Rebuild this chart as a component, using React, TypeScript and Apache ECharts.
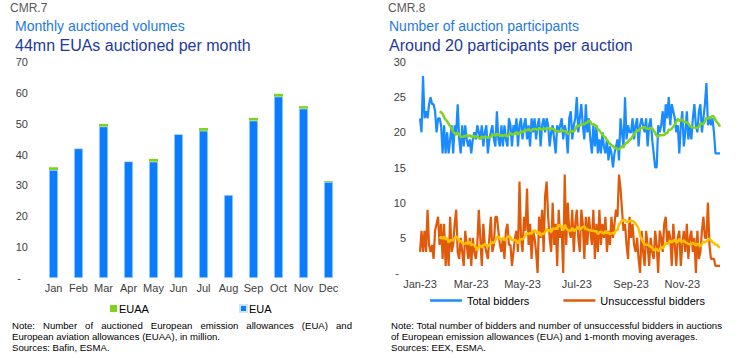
import React, { useEffect, useRef } from 'react';
import * as echarts from 'echarts';

// ---------- Data: CMR.7 ----------
const months = ['Jan', 'Feb', 'Mar', 'Apr', 'May', 'Jun', 'Jul', 'Aug', 'Sep', 'Oct', 'Nov', 'Dec'];
const euaVolumes = [35.0, 42.0, 49.1, 37.8, 37.7, 46.6, 47.7, 26.9, 51.0, 58.8, 54.9, 31.1];
const euaaVolumes = [0.9, 0, 0.8, 0, 0.9, 0, 0.9, 0, 0.9, 0.9, 0.8, 0.3];

// ---------- Data: CMR.8 (one value per auction, Jan-Dec 2023) ----------
const totalBidders = [
  22, 20, 28, 22, 23, 22, 24, 25, 24, 24,
  23, 20, 22, 22, 21, 17, 21, 17, 20, 17,
  19, 21, 17, 21, 20, 24, 19, 17, 21, 18,
  21, 19, 18, 19, 17, 19, 20, 19, 21, 20,
  19, 21, 18, 20, 21, 17, 19, 20, 21, 19,
  18, 23, 19, 18, 21, 18, 21, 19, 18, 22,
  21, 18, 21, 20, 22, 18, 21, 22, 19, 21,
  22, 19, 21, 18, 22, 20, 22, 19, 21, 22,
  18, 21, 22, 20, 22, 21, 18, 20, 21, 19,
  17, 21, 20, 21, 22, 19, 21, 20, 17, 22,
  23, 19, 21, 22, 25, 20, 22, 24, 21, 19,
  24, 20, 22, 19, 17, 21, 18, 21, 17, 19,
  17, 20, 18, 17, 19, 16, 18, 17, 15, 17,
  18, 19, 16, 22, 20, 18, 25, 19, 21, 20,
  20, 22, 19, 21, 22, 18, 21, 22, 21, 20,
  22, 18, 21, 22, 19, 17, 15, 15, 21, 20,
  21, 23, 20, 24, 22, 25, 21, 24, 23, 22,
  20, 21, 17, 21, 23, 18, 20, 23, 19, 21,
  19, 22, 24, 21, 20, 23, 24, 20, 22, 24,
  27, 21, 22, 21, 22, 20, 17, 17, 17, 17,
];
const unsuccessfulBidders = [
  3, 6, 3, 6, 3, 9, 4, 3, 4, 2,
  6, 7, 8, 4, 7, 2, 7, 1, 5, 1,
  8, 3, 4, 7, 9, 3, 2, 5, 3, 1,
  6, 4, 2, 5, 1, 5, 3, 2, 4, 9,
  5, 1, 7, 4, 3, 2, 5, 8, 3, 4,
  8, 8, 6, 4, 3, 5, 2, 6, 7, 4,
  4, 1, 3, 5, 6, 3, 13, 5, 3, 8,
  6, 12, 4, 7, 2, 6, 5, 3, 0, 8,
  5, 9, 3, 11, 13, 8, 5, 3, 10, 4,
  7, 1, 9, 5, 6, 0, 14, 4, 10, 6,
  5, 9, 3, 7, 9, 5, 3, 9, 7, 2,
  8, 4, 8, 6, 4, 9, 2, 7, 3, 9,
  4, 7, 5, 8, 3, 6, 4, 8, 5, 7,
  9, 8, 14, 12, 9, 6, 7, 4, 2, 8,
  5, 7, 4, 3, 5, 2, 0, 6, 3, 1,
  6, 4, 1, 5, 3, 2, 6, 4, 0, 6,
  5, 3, 7, 8, 4, 6, 5, 1, 7, 4,
  1, 5, 6, 1, 4, 6, 3, 7, 2, 5,
  6, 3, 5, 0, 6, 2, 3, 6, 8, 5,
  5, 10, 4, 2, 2, 2, 1, 1, 1, 1,
];
const MA_WINDOW = 14; // about one month of auctions
const monthAbbr = ['Jan', 'Feb', 'Mar', 'Apr', 'May', 'Jun', 'Jul', 'Aug', 'Sep', 'Oct', 'Nov', 'Dec'];

// ---------- Helpers ----------
function movingAverage(values: number[], w: number): (number | null)[] {
  return values.map((_, i) => {
    if (i < w - 1) return null;
    let s = 0;
    for (let k = i - w + 1; k <= i; k++) s += values[k];
    return Math.round((s / w) * 100) / 100;
  });
}

// auction calendar: Monday to Thursday sessions from 2 Jan 2023
function auctionDates(n: number): string[] {
  const out: string[] = [];
  const d = new Date(Date.UTC(2023, 0, 2));
  while (out.length < n) {
    const wd = d.getUTCDay();
    if (wd >= 1 && wd <= 4) out.push(d.toISOString().slice(0, 10));
    d.setUTCDate(d.getUTCDate() + 1);
  }
  return out;
}

const FONT = "'Liberation Sans', Arial, sans-serif";
const AXIS_COLOR = '#404040';

function measure(text: string, size: number): number {
  const c = document.createElement('canvas').getContext('2d');
  if (!c) return text.length * size * 0.5;
  c.font = `${size}px ${FONT}`;
  return c.measureText(text).width;
}

function justifiedLine(text: string, x0: number, x1: number, y: number, size: number) {
  const words = text.split(' ');
  const widths = words.map((w) => measure(w, size));
  const total = widths.reduce((a, b) => a + b, 0);
  const gap = (x1 - x0 - total) / (words.length - 1);
  let x = x0;
  return words.map((w, i) => {
    const el = {
      type: 'text',
      x,
      y,
      style: { text: w, fill: '#000', fontSize: size, fontFamily: FONT, textVerticalAlign: 'middle' },
    };
    x += widths[i] + gap;
    return el;
  });
}

function textEl(text: string, x: number, y: number, size: number, fill: string) {
  return {
    type: 'text',
    x,
    y,
    style: { text, fill, fontSize: size, fontFamily: FONT, textVerticalAlign: 'middle' },
  };
}

export default function App() {
  const ref = useRef<HTMLDivElement>(null);

  useEffect(() => {
    document.body.style.margin = '0';
    if (!ref.current) return;
    const chart = echarts.init(ref.current, undefined, { renderer: 'svg' });

    const dates = auctionDates(totalBidders.length);
    const totalMA = movingAverage(totalBidders, MA_WINDOW);
    const unsMA = movingAverage(unsuccessfulBidders, MA_WINDOW);

    const isLabelDate = (index: number) => {
      const m = parseInt(dates[index].slice(5, 7), 10) - 1;
      if (m % 2 !== 0) return false;
      if (index === 0) return true;
      return dates[index - 1].slice(5, 7) !== dates[index].slice(5, 7);
    };

    const zeroDash = (v: number) => (v === 0 ? '{d|-}' : String(v));
    const yLabel = {
      color: AXIS_COLOR,
      fontSize: 11,
      fontFamily: FONT,
      formatter: zeroDash,
      rich: { d: { padding: [0, 7, 0, 0], color: AXIS_COLOR, fontSize: 11, fontFamily: FONT } },
    };

    const NOTE = 9.6;
    const graphics: any[] = [
      textEl('CMR.7', 10, 8, 12, '#595959'),
      textEl('Monthly auctioned volumes', 15, 26, 14, '#1f78e3'),
      textEl('44mn EUAs auctioned per month', 15, 45, 16, '#1e3a9c'),
      textEl('CMR.8', 388, 8, 12, '#595959'),
      textEl('Number of auction participants', 389, 26, 14, '#1f78e3'),
      textEl('Around 20 participants per auction', 389, 45, 16, '#1e3a9c'),
      ...justifiedLine(
        'Note: Number of auctioned European emission allowances (EUA) and',
        12, 352, 325, NOTE
      ),
      textEl('European aviation allowances (EUAA), in million.', 12, 336.5, NOTE, '#000'),
      textEl('Sources: Bafin, ESMA.', 12, 347.5, NOTE, '#000'),
      textEl('Note: Total number of bidders and number of unsuccessful bidders in auctions', 391, 325, NOTE, '#000'),
      textEl('of European emission allowances (EUA) and 1-month moving averages.', 391, 336.5, NOTE, '#000'),
      textEl('Sources: EEX, ESMA.', 391, 347.5, NOTE, '#000'),
    ];

    chart.setOption({
      animation: false,
      textStyle: { fontFamily: FONT },
      grid: [
        { left: 41, top: 62, width: 300, height: 216 },
        { left: 420, top: 62, width: 300, height: 211 },
      ],
      legend: [
        {
          data: ['EUAA', 'EUA'],
          left: 105,
          top: 298,
          icon: 'rect',
          itemWidth: 7,
          itemHeight: 7,
          itemGap: 90,
          textStyle: { fontSize: 11, color: '#000', fontFamily: FONT, padding: [0, 0, 0, -3] },
          selectedMode: false,
        },
        {
          data: ['Total bidders', 'Unsuccessful bidders'],
          left: 425,
          top: 290,
          icon: 'rect',
          itemWidth: 32,
          itemHeight: 2.5,
          itemGap: 34,
          textStyle: { fontSize: 11, color: '#000', fontFamily: FONT },
          selectedMode: false,
        },
      ],
      xAxis: [
        {
          type: 'category',
          gridIndex: 0,
          data: months,
          axisLine: { show: false },
          axisTick: { show: false },
          axisLabel: { color: AXIS_COLOR, fontSize: 11, fontFamily: FONT, margin: 4, interval: 0 },
        },
        {
          type: 'category',
          gridIndex: 1,
          data: dates,
          boundaryGap: false,
          axisLine: { show: false },
          axisTick: { show: false },
          axisLabel: {
            color: AXIS_COLOR,
            fontSize: 11,
            fontFamily: FONT,
            margin: 5,
            interval: (index: number) => isLabelDate(index),
            formatter: (v: string) => `${monthAbbr[parseInt(v.slice(5, 7), 10) - 1]}-23`,
          },
        },
      ],
      yAxis: [
        {
          type: 'value',
          gridIndex: 0,
          min: 0,
          max: 70,
          interval: 10,
          splitLine: { show: false },
          axisLine: { show: false },
          axisTick: { show: false },
          axisLabel: { ...yLabel, margin: 13 },
        },
        {
          type: 'value',
          gridIndex: 1,
          min: 0,
          max: 30,
          interval: 5,
          splitLine: { show: false },
          axisLine: { show: false },
          axisTick: { show: false },
          axisLabel: { ...yLabel, margin: 14 },
        },
      ],
      series: [
        {
          name: 'EUA',
          type: 'bar',
          xAxisIndex: 0,
          yAxisIndex: 0,
          stack: 'vol',
          barWidth: 9,
          data: euaVolumes,
          itemStyle: { color: '#0a7cff', borderColor: '#cfe4ff', borderWidth: 0.6 },
        },
        {
          name: 'EUAA',
          type: 'bar',
          xAxisIndex: 0,
          yAxisIndex: 0,
          stack: 'vol',
          barWidth: 9,
          data: euaaVolumes,
          itemStyle: { color: '#7ed321' },
        },
        {
          name: 'Total bidders',
          type: 'line',
          xAxisIndex: 1,
          yAxisIndex: 1,
          data: totalBidders,
          showSymbol: false,
          lineStyle: { color: '#1a8cff', width: 2.2 },
          itemStyle: { color: '#1a8cff' },
        },
        {
          name: 'Unsuccessful bidders',
          type: 'line',
          xAxisIndex: 1,
          yAxisIndex: 1,
          data: unsuccessfulBidders,
          showSymbol: false,
          lineStyle: { color: '#e05a0a', width: 2.2 },
          itemStyle: { color: '#e05a0a' },
        },
        {
          name: 'Total bidders (1-month MA)',
          type: 'line',
          xAxisIndex: 1,
          yAxisIndex: 1,
          data: totalMA,
          showSymbol: false,
          lineStyle: { color: '#7ed321', width: 2.5 },
          itemStyle: { color: '#7ed321' },
        },
        {
          name: 'Unsuccessful bidders (1-month MA)',
          type: 'line',
          xAxisIndex: 1,
          yAxisIndex: 1,
          data: unsMA,
          showSymbol: false,
          lineStyle: { color: '#ffc000', width: 2.5 },
          itemStyle: { color: '#ffc000' },
        },
      ],
      graphic: graphics,
    });

    return () => chart.dispose();
  }, []);

  return (
    <div
      ref={ref}
      style={{ position: 'absolute', left: 0, top: 0, width: 752, height: 358, background: '#fff' }}
    />
  );
}
